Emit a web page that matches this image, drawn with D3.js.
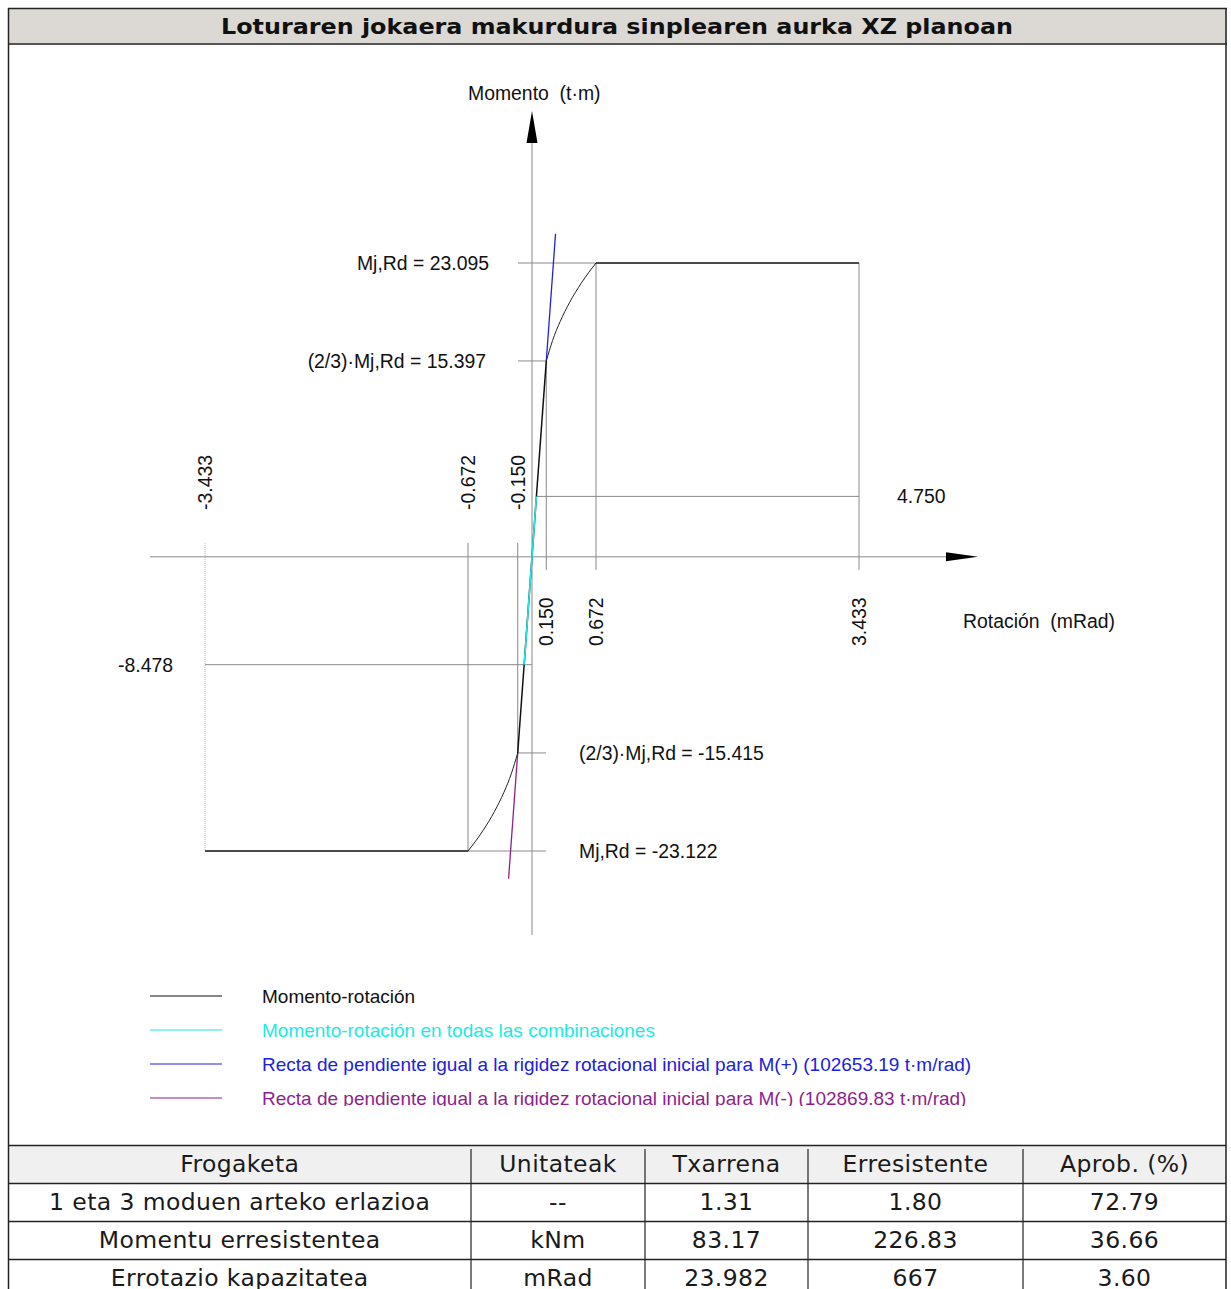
<!DOCTYPE html>
<html>
<head>
<meta charset="utf-8">
<script src="https://cdn.jsdelivr.net/npm/d3@7"></script>
<style>
  body { margin: 0; background: #fff; }
  svg { display: block; }
</style>
</head>
<body>
<svg id="chart" width="1231" height="1289"></svg>
<script>
// ---- data: moment–rotation curve of the joint (rotation in mRad, moment in t·m)
const negCurveRot = [-0.672, -0.513, -0.393, -0.294, -0.215, -0.150];
const negCurveMom = [-23.122, -21.5, -20.0, -18.5, -17.0, -15.415];
const posCurveRot = [0.150, 0.216, 0.296, 0.395, 0.516, 0.672];
const posCurveMom = [15.397, 17.0, 18.5, 20.0, 21.5, 23.095];
const plateauRot = [-3.433, 3.433];
const plateauMom = [-23.122, 23.095];

// elastic branch (between ±2/3·Mj,Rd)
const elasticRot = [-0.150, 0.150];
const elasticMom = [-15.415, 15.397];

// range reached by all load combinations
const combRot = [-0.082, 0.046];
const combMom = [-8.478, 4.750];

// initial stiffness lines
const stiffPosRot = [0.150, 0.247];
const stiffPosMom = [15.397, 25.4];
const stiffNegRot = [-0.150, -0.246];
const stiffNegMom = [-15.415, -25.3];

// rotation tick values and moment levels
const rotTicks = [-3.433, -0.672, -0.150, 0.150, 0.672, 3.433];
const rotTickLabels = ["-3.433", "-0.672", "-0.150", "0.150", "0.672", "3.433"];
const momLevels = [23.095, 15.397, -15.415, -23.122];
const momLabels = ["Mj,Rd = 23.095", "(2/3)·Mj,Rd = 15.397", "(2/3)·Mj,Rd = -15.415", "Mj,Rd = -23.122"];

const legendLabels = [
  "Momento-rotación",
  "Momento-rotación en todas las combinaciones",
  "Recta de pendiente igual a la rigidez rotacional inicial para M(+) (102653.19 t·m/rad)",
  "Recta de pendiente igual a la rigidez rotacional inicial para M(-) (102869.83 t·m/rad)"
];
const legendColors = ["#111111", "#1ee8e8", "#2020e0", "#8e1f8e"];

// ---- data: verification table
const tableHead = ["Frogaketa", "Unitateak", "Txarrena", "Erresistente", "Aprob. (%)"];
const checkNames = ["1 eta 3 moduen arteko erlazioa", "Momentu erresistentea", "Errotazio kapazitatea"];
const checkUnits = ["--", "kNm", "mRad"];
const checkWorst = ["1.31", "83.17", "23.982"];
const checkResist = ["1.80", "226.83", "667"];
const checkRatio = ["72.79", "36.66", "3.60"];

const svg = d3.select("#chart");
const chartFont = "'Liberation Sans', Arial, sans-serif";
const tableFont = "'DejaVu Sans', Verdana, sans-serif";
const gridColor = "#8a8a8a";
const chartFontSize = 19.4;
const legendFontSize = 19.0;

// ---- frame and title
svg.append("rect").attr("x", 8.5).attr("y", 8.5).attr("width", 1218).attr("height", 35)
  .attr("fill", "#dcd8d4");
svg.append("text").attr("x", 617).attr("y", 26).attr("text-anchor", "middle")
  .attr("dominant-baseline", "central")
  .attr("font-family", tableFont).attr("font-weight", "bold").attr("font-size", 22)
  .attr("textLength", 792).attr("lengthAdjust", "spacingAndGlyphs")
  .attr("fill", "#111")
  .text("Loturaren jokaera makurdura sinplearen aurka XZ planoan");

// ---- scales
const x = d3.scaleLinear().domain([-3.433, 3.433]).range([205, 859]);
const y = d3.scaleLinear().domain([-23.122, 23.095]).range([851, 263]);
const x0 = x(0), y0 = y(0);

const plot = svg.append("g");
plot.append("clipPath").attr("id", "plotClip")
  .append("rect").attr("x", 9).attr("y", 45).attr("width", 1216).attr("height", 1061);
const g = plot.append("g").attr("clip-path", "url(#plotClip)");

const seg = (x1, y1, x2, y2, color, width, dash) => {
  const l = g.append("line").attr("x1", x1).attr("y1", y1).attr("x2", x2).attr("y2", y2)
    .attr("stroke", color).attr("stroke-width", width || 1);
  if (dash) l.attr("stroke-dasharray", dash);
  return l;
};

// ---- reference lines for rotation values
rotTicks.forEach((r, i) => {
  const px = x(r);
  if (r < 0) {
    const bottom = (r === -0.150) ? y(elasticMom[0]) : y(plateauMom[0]);
    seg(px, y0 - 14, px, bottom, r === -3.433 ? "#b0b0b0" : gridColor, 1, r === -3.433 ? "1,1" : null);
  } else {
    const top = (r === 0.150) ? y(elasticMom[1]) : y(plateauMom[1]);
    seg(px, top, px, y0 + 13, gridColor, 1);
  }
});

// ---- reference lines for moment levels
seg(x0 - 14, y(momLevels[0]), x(plateauRot[1]), y(momLevels[0]), gridColor);
seg(x0 - 14, y(momLevels[1]), x(0.150), y(momLevels[1]), gridColor);
seg(x(-0.150), y(momLevels[2]), x0 + 14, y(momLevels[2]), gridColor);
seg(x(plateauRot[0]), y(momLevels[3]), x0 + 14, y(momLevels[3]), gridColor);
// combination extremes
seg(x(combRot[1]), y(combMom[1]), x(plateauRot[1]), y(combMom[1]), gridColor);
seg(x(plateauRot[0]), y(combMom[0]), x0, y(combMom[0]), gridColor);

// ---- axes with arrow heads
seg(x0, 143, x0, 935, gridColor);
seg(150, y0, 948, y0, gridColor);
g.append("path").attr("d", `M${x0},111 L${x0 - 5.5},143 L${x0 + 5.5},143 Z`).attr("fill", "#000");
g.append("path").attr("d", `M978,${y0} L946,${y0 - 4.5} L946,${y0 + 4.5} Z`).attr("fill", "#000");

// ---- curves
const lineLin = d3.line().x(d => x(d[0])).y(d => y(d[1]));
const lineSmooth = d3.line().x(d => x(d[0])).y(d => y(d[1])).curve(d3.curveMonotoneX);
const zipPts = (a, b) => a.map((v, i) => [v, b[i]]);

// initial-stiffness lines
g.append("path").attr("d", lineLin(zipPts(stiffPosRot, stiffPosMom)))
  .attr("fill", "none").attr("stroke", legendColors[2]).attr("stroke-width", 1.3);
g.append("path").attr("d", lineLin(zipPts(stiffNegRot, stiffNegMom)))
  .attr("fill", "none").attr("stroke", legendColors[3]).attr("stroke-width", 1.3);

// moment–rotation: plateaus, nonlinear branches and elastic branch
g.append("path").attr("d", lineLin([[plateauRot[0], plateauMom[0]], [negCurveRot[0], negCurveMom[0]]]))
  .attr("fill", "none").attr("stroke", "#222").attr("stroke-width", 1.6);
g.append("path").attr("d", lineLin([[posCurveRot[posCurveRot.length - 1], plateauMom[1]], [plateauRot[1], plateauMom[1]]]))
  .attr("fill", "none").attr("stroke", "#222").attr("stroke-width", 1.3);
g.append("path").attr("d", lineSmooth(zipPts(negCurveRot, negCurveMom)))
  .attr("fill", "none").attr("stroke", "#222").attr("stroke-width", 1);
g.append("path").attr("d", lineSmooth(zipPts(posCurveRot, posCurveMom)))
  .attr("fill", "none").attr("stroke", "#222").attr("stroke-width", 1);
g.append("path").attr("d", lineLin(zipPts(elasticRot, elasticMom)))
  .attr("fill", "none").attr("stroke", "#111").attr("stroke-width", 1.5);

// combination range on the elastic branch
g.append("path").attr("d", lineLin(zipPts(combRot, combMom)))
  .attr("fill", "none").attr("stroke", legendColors[1]).attr("stroke-width", 1.6);

// ---- text labels
const txt = (tx, ty, s, anchor, color, size) => g.append("text")
  .attr("x", tx).attr("y", ty).attr("text-anchor", anchor || "start")
  .attr("dominant-baseline", "central")
  .attr("font-family", chartFont).attr("font-size", size || chartFontSize)
  .attr("fill", color || "#111").style("white-space", "pre").text(s);

txt(468, 93, "Momento  (t·m)");
txt(963, 621, "Rotación  (mRad)");

rotTicks.forEach((r, i) => {
  const ty = r < 0 ? 510 : 646;
  g.append("text")
    .attr("transform", `translate(${x(r)},${ty}) rotate(-90)`)
    .attr("dominant-baseline", "central")
    .attr("font-family", chartFont).attr("font-size", chartFontSize).attr("fill", "#111")
    .text(rotTickLabels[i]);
});

txt(489, y(momLevels[0]), momLabels[0], "end");
txt(486, y(momLevels[1]), momLabels[1], "end");
txt(579, y(momLevels[2]), momLabels[2], "start");
txt(579, y(momLevels[3]), momLabels[3], "start");
txt(x(plateauRot[1]) + 38, y(combMom[1]), combMom[1].toFixed(3), "start");
txt(x(plateauRot[0]) - 32, y(combMom[0]), combMom[0].toFixed(3), "end");

// ---- legend
legendLabels.forEach((lab, i) => {
  const ly = 996 + i * 34;
  seg(150, ly, 222, ly, legendColors[i], 1.2);
  txt(262, ly, lab, "start", legendColors[i], legendFontSize);
});

// ---- table
const colEdges = [8.5, 471, 645, 808, 1023, 1226];
const rowEdges = [1145, 1183, 1221, 1259, 1297];
const tbl = svg.append("g");
tbl.append("rect").attr("x", colEdges[0]).attr("y", rowEdges[0])
  .attr("width", colEdges[5] - colEdges[0]).attr("height", rowEdges[1] - rowEdges[0])
  .attr("fill", "#f0f0f0");
const rows = [tableHead].concat(checkNames.map((n, i) =>
  [n, checkUnits[i], checkWorst[i], checkResist[i], checkRatio[i]]));
rows.forEach((row, ri) => {
  row.forEach((cell, ci) => {
    tbl.append("text")
      .attr("x", (colEdges[ci] + colEdges[ci + 1]) / 2)
      .attr("y", (rowEdges[ri] + rowEdges[ri + 1]) / 2)
      .attr("text-anchor", "middle").attr("dominant-baseline", "central")
      .attr("font-family", tableFont).attr("font-size", 23.5)
      .attr("letter-spacing", 0.4).attr("fill", "#1a1a1a")
      .text(cell);
  });
});
rowEdges.slice(0, 4).forEach(ry => {
  tbl.append("line").attr("x1", 8).attr("x2", 1226).attr("y1", ry + 0.5).attr("y2", ry + 0.5)
    .attr("stroke", "#222").attr("stroke-width", 1.5);
});
colEdges.slice(1, 5).forEach(cx => {
  tbl.append("line").attr("x1", cx).attr("x2", cx).attr("y1", rowEdges[0] + 4).attr("y2", 1289)
    .attr("stroke", "#222").attr("stroke-width", 1.2);
});

// outer frame
svg.append("line").attr("x1", 8).attr("x2", 1227).attr("y1", 8.5).attr("y2", 8.5).attr("stroke", "#222").attr("stroke-width", 1.5);
svg.append("line").attr("x1", 8).attr("x2", 1227).attr("y1", 44).attr("y2", 44).attr("stroke", "#222").attr("stroke-width", 1.5);
svg.append("line").attr("x1", 8.5).attr("x2", 8.5).attr("y1", 8).attr("y2", 1289).attr("stroke", "#222").attr("stroke-width", 1.5);
svg.append("line").attr("x1", 1226).attr("x2", 1226).attr("y1", 8).attr("y2", 1289).attr("stroke", "#222").attr("stroke-width", 1.5);
</script>
</body>
</html>
